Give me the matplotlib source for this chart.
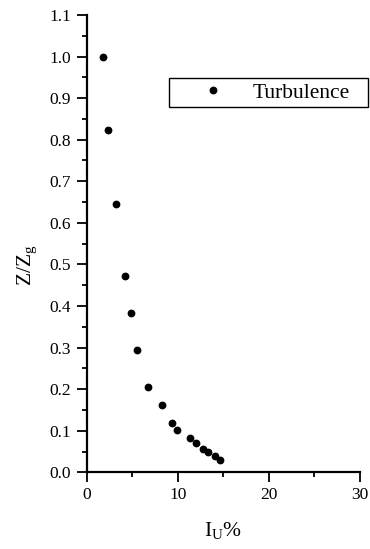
import matplotlib
matplotlib.use("Agg")
from matplotlib import pyplot as plt
from matplotlib.ticker import MultipleLocator

plt.rcParams['font.family'] = ['Liberation Serif', 'DejaVu Serif']
plt.rcParams['mathtext.fontset'] = 'custom'
plt.rcParams['mathtext.rm'] = 'Liberation Serif'
plt.rcParams['mathtext.it'] = 'Liberation Serif:italic'

# turbulence intensity (%) vs normalized height
intensity = [1.82, 2.37, 3.18, 4.24, 4.83, 5.56, 6.77, 8.30, 9.33, 9.91,
             11.38, 12.03, 12.80, 13.35, 14.05, 14.63]
height = [1.000, 0.824, 0.646, 0.471, 0.383, 0.294, 0.206, 0.162, 0.119, 0.101,
          0.083, 0.0705, 0.057, 0.049, 0.0385, 0.030]

fig = plt.figure(figsize=(3.7, 5.49), dpi=100)
ax = fig.add_axes([0.234, 0.1397, 0.739, 0.833])

ax.plot(intensity, height, 'o', color='black', ms=4.6, label='Turbulence')

ax.set_xlim(0, 30)
ax.set_ylim(0, 1.1)
ax.xaxis.set_major_locator(MultipleLocator(10))
ax.xaxis.set_minor_locator(MultipleLocator(5))
ax.yaxis.set_major_locator(MultipleLocator(0.1))
ax.yaxis.set_minor_locator(MultipleLocator(0.05))
ax.yaxis.set_major_formatter(matplotlib.ticker.FormatStrFormatter('%.1f'))

for s in ['top', 'right']:
    ax.spines[s].set_visible(False)
for s in ['left', 'bottom']:
    ax.spines[s].set_linewidth(1.6)

ax.tick_params(which='major', direction='out', length=7, width=1.3, labelsize=12.5)
ax.tick_params(which='minor', direction='out', length=3.8, width=1.3)
ax.tick_params(axis='y', which='major', pad=4)
ax.tick_params(axis='x', which='major', pad=3.5)

ax.set_xlabel(r'$\mathrm{I_U}$%', fontsize=15.5)
ax.set_ylabel(r'$\mathrm{Z/Z_g}$', fontsize=15.5)
ax.xaxis.set_label_coords(0.5, -0.105)
ax.yaxis.set_label_coords(-0.175, 0.453)

leg = ax.legend(loc='lower left', bbox_to_anchor=(0.301, 0.799, 0.728, 0.074),
                mode='expand', borderaxespad=0, fontsize=15.5, borderpad=0.2,
                handlelength=3.7, handletextpad=0.0, fancybox=False,
                framealpha=1, edgecolor='black')
leg.get_frame().set_linewidth(1.0)

fig.savefig('out.png', dpi=100)
